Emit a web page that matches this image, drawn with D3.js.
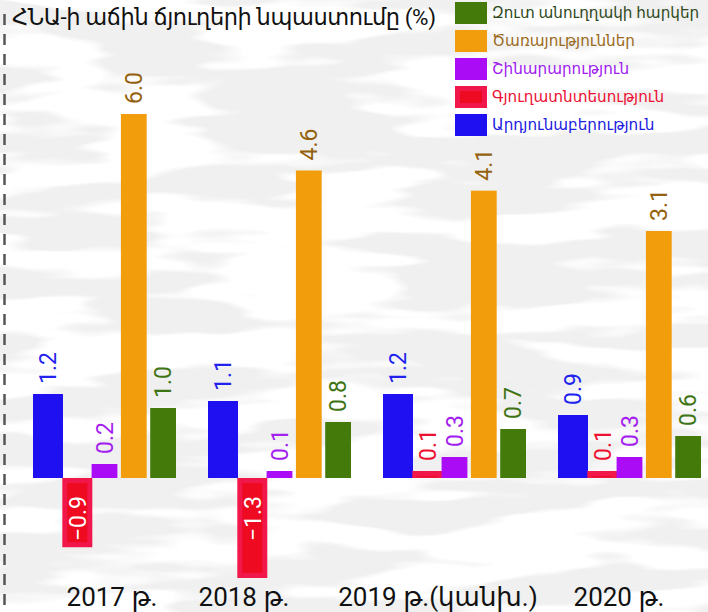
<!DOCTYPE html>
<html>
<head>
<meta charset="utf-8">
<script src="https://cdn.jsdelivr.net/npm/d3@7"></script>
<style>
  body { margin: 0; background: #fff; }
  svg { display: block; font-family: Roboto, "DejaVu Sans", sans-serif; }
</style>
</head>
<body>
<svg id="chart" width="708" height="612"></svg>
<script>
// data
const years = ["2017 թ.", "2018 թ.", "2019 թ.(կանխ.)", "2020 թ."];
const series = ["Արդյունաբերություն", "Գյուղատնտեսություն", "Շինարարություն", "Ծառայություններ", "Զուտ անուղղակի հարկեր"];
const industry = [1.2, 1.1, 1.2, 0.9];
const agriculture = [-0.9, -1.3, 0.1, 0.1];
const construction = [0.2, 0.1, 0.3, 0.3];
const services = [6.0, 4.6, 4.1, 3.1];
const taxes = [1.0, 0.8, 0.7, 0.6];
const legendOrder = ["Զուտ անուղղակի հարկեր", "Ծառայություններ", "Շինարարություն", "Գյուղատնտեսություն", "Արդյունաբերություն"];
const title = "ՀՆԱ-ի աճին ճյուղերի նպաստումը (%)";

const values = [industry, agriculture, construction, services, taxes];

const fill = {
  "Արդյունաբերություն": "#1f10f2",
  "Գյուղատնտեսություն": "#f2174a",
  "Շինարարություն": "#a90cf5",
  "Ծառայություններ": "#f29e0c",
  "Զուտ անուղղակի հարկեր": "#447a0a"
};
const labelColor = {
  "Արդյունաբերություն": "#2222ee",
  "Գյուղատնտեսություն": "#ee1030",
  "Շինարարություն": "#a320ee",
  "Ծառայություններ": "#94620e",
  "Զուտ անուղղակի հարկեր": "#3f7414"
};
const legendColor = {
  "Արդյունաբերություն": "#2020e0",
  "Գյուղատնտեսություն": "#ee1133",
  "Շինարարություն": "#a020f0",
  "Ծառայություններ": "#9b6a20",
  "Զուտ անուղղակի հարկեր": "#2f4a1c"
};

const svg = d3.select("#chart");

// faint grey texture behind everything
const defs = svg.append("defs");
const f = defs.append("filter").attr("id", "tex")
  .attr("x", 0).attr("y", 0).attr("width", "100%").attr("height", "100%");
f.append("feTurbulence")
  .attr("type", "fractalNoise")
  .attr("baseFrequency", "0.005 0.03")
  .attr("numOctaves", 3)
  .attr("seed", 7);
f.append("feColorMatrix")
  .attr("type", "matrix")
  .attr("values", "0 0 0 0 0.87  0 0 0 0 0.87  0 0 0 0 0.87  0 0 0 -10 5.6");
svg.append("rect")
  .attr("width", 708).attr("height", 612)
  .attr("filter", "url(#tex)");

// dashed line on the left
svg.append("line")
  .attr("x1", 4.5).attr("x2", 4.5)
  .attr("y1", 14).attr("y2", 612)
  .attr("stroke", "#555")
  .attr("stroke-width", 2.5)
  .attr("stroke-dasharray", "11,9");

// scales (value axis is drawn uneven, like the source graphic)
const x0 = d3.scalePoint().domain(years).range([33, 558]);
const x1 = d3.scaleBand().domain(series).range([0, 143]).paddingInner(0.12);
const y = d3.scaleLinear()
  .domain([-1.3, 0, 1.2, 3.1, 6])
  .range([578, 478, 394, 231, 114]);

const wide = s => s === series[0] || s === series[1];
const barW = s => wide(s) ? 30 : x1.bandwidth();

const groups = svg.append("g").selectAll("g")
  .data(years)
  .join("g")
  .attr("transform", d => `translate(${x0(d)},0)`);

const bars = groups.selectAll("g.bar")
  .data((d, i) => series.map((s, j) => ({ s, v: values[j][i] })))
  .join("g")
  .attr("class", "bar");

bars.append("rect")
  .attr("x", d => x1(d.s))
  .attr("y", d => y(Math.max(0, d.v)))
  .attr("width", d => barW(d.s))
  .attr("height", d => Math.abs(y(d.v) - y(0)))
  .attr("fill", d => fill[d.s]);

// darker core of the agriculture bars
bars.filter(d => d.s === series[1])
  .append("rect")
  .attr("x", d => x1(d.s) + 5)
  .attr("y", d => y(Math.max(0, d.v)) + 5)
  .attr("width", d => barW(d.s) - 10)
  .attr("height", d => Math.max(1, Math.abs(y(d.v) - y(0)) - 10))
  .attr("fill", "#ee0a20");

// value labels, rotated
bars.append("text")
  .attr("transform", d => {
    const cx = x1(d.s) + barW(d.s) / 2;
    const yy = d.v >= 0 ? y(d.v) - 10 : y(0) + 18;
    return `translate(${cx},${yy}) rotate(-90)`;
  })
  .attr("text-anchor", d => d.v >= 0 ? "start" : "end")
  .attr("dy", "0.36em")
  .attr("font-size", 23)
  .attr("fill", d => d.v >= 0 ? labelColor[d.s] : "#fff")
  .text(d => d3.format(".1f")(d.v));

// category labels
const tickNudge = [79, 36, 55, 61];
svg.append("g").selectAll("text")
  .data(years)
  .join("text")
  .attr("x", (d, i) => x0(d) + tickNudge[i])
  .attr("y", 606)
  .attr("text-anchor", "middle")
  .attr("font-size", 26)
  .attr("fill", "#111")
  .text(d => d);

// title
svg.append("text")
  .attr("x", 12)
  .attr("y", 25)
  .attr("font-size", 22.5)
  .attr("textLength", 424)
  .attr("lengthAdjust", "spacing")
  .attr("fill", "#111")
  .text(title);

// legend
const leg = svg.append("g").attr("transform", "translate(455,2)");
const li = leg.selectAll("g")
  .data(legendOrder)
  .join("g")
  .attr("transform", (d, i) => `translate(0,${i * 28})`);
li.append("rect")
  .attr("width", 32).attr("height", 22)
  .attr("fill", d => fill[d]);
li.filter(d => d === series[1]).append("rect")
  .attr("x", 5).attr("y", 5).attr("width", 22).attr("height", 12)
  .attr("fill", "#ee0a20");
li.append("text")
  .attr("x", 37).attr("y", 11)
  .attr("dy", "0.36em")
  .attr("font-size", 15.2)
  .attr("fill", d => legendColor[d])
  .text(d => d);
</script>
</body>
</html>
